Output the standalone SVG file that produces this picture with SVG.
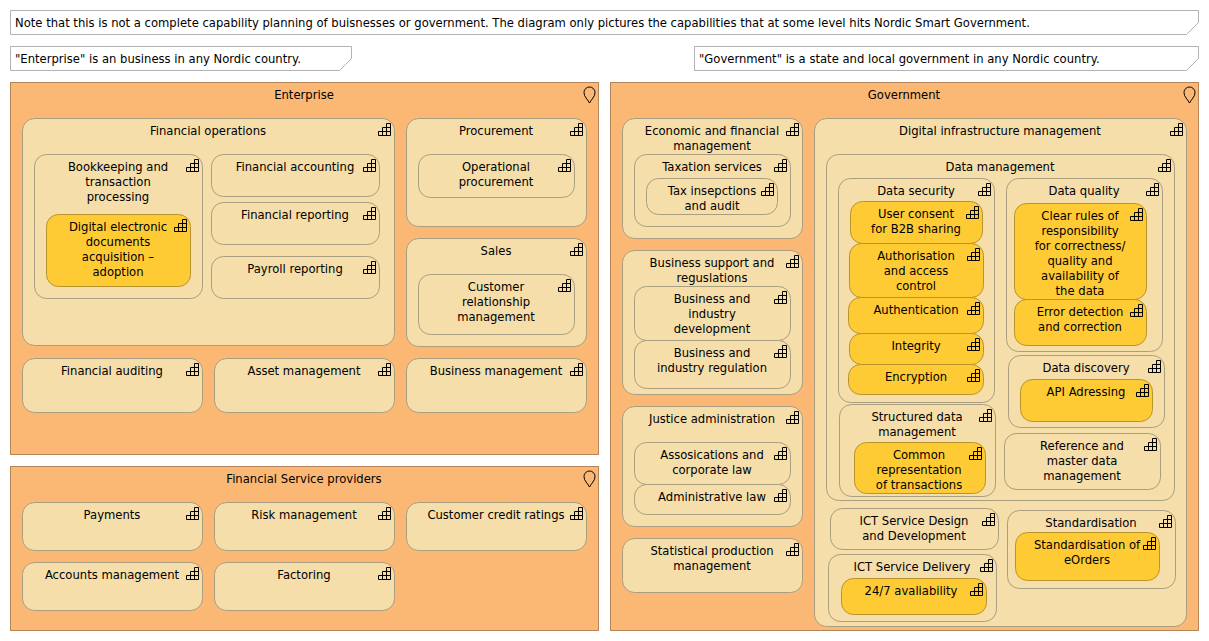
<svg xmlns="http://www.w3.org/2000/svg" width="1209" height="641" viewBox="0 0 1209 641">
<style>
text{font-family:"DejaVu Sans",sans-serif;font-size:11.6px;fill:#000;text-anchor:middle}
.l{text-anchor:start}
.n{fill:#fff;stroke:#b3b3b3;stroke-width:1}
.g{fill:#fbb875;stroke:#b5845a;stroke-width:1}
.c{fill:#f5deaa;stroke:#aa9e80;stroke-width:1}
.y{fill:#ffcb35;stroke:#b8942f;stroke-width:1}
.i{fill:none;stroke:#000;stroke-width:1}
</style>
<defs>
<g id="cap" class="i"><path d="M.5 12.500h12M.5 8.500h12M4.500 4.500h8M8.500 .5h4M.5 8.500v4M4.500 4.500v8M8.500 .5v12M12.500 .5v12"/></g>
<path id="pin" class="i" d="M0 11C-2 7-5.500 5-5.500 0.500a5.500 5.500 0 0 1 11 0C5.500 5 2 7 0 11Z"/>
</defs>
<g id="note-1"><path class="n" d="M10.500 10.500H1198.500V22.500L1186.500 34.500H10.500Z"/><text class="l" x="15" y="27">Note that this is not a complete capability planning of buisnesses or government. The diagram only pictures the capabilities that at some level hits Nordic Smart Government.</text></g>
<g id="note-2"><path class="n" d="M10.500 46.500H351.500V58.500L339.500 70.500H10.500Z"/><text class="l" x="15" y="63">"Enterprise" is an business in any Nordic country.</text></g>
<g id="note-3"><path class="n" d="M694.500 46.500H1198.500V58.500L1186.500 70.500H694.500Z"/><text class="l" x="699" y="63">"Government" is a state and local government in any Nordic country.</text></g>

<g id="enterprise"><rect class="g" x="10.500" y="82.500" width="588" height="372"/><text x="304" y="99">Enterprise</text><use href="#pin" x="589.500" y="92"/></g>
<g id="financial-service-providers"><rect class="g" x="10.500" y="466.500" width="588" height="164"/><text x="304" y="483">Financial Service providers</text><use href="#pin" x="589.500" y="476"/></g>
<g id="government"><rect class="g" x="610.500" y="82.500" width="588" height="548"/><text x="904" y="99">Government</text><use href="#pin" x="1189.500" y="92"/></g>

<g id="financial-operations"><rect class="c" x="22.500" y="118.500" width="372" height="227" rx="12"/><text x="208" y="135">Financial operations</text><use href="#cap" x="378" y="123"/></g>
<g id="bookkeeping"><rect class="c" x="34.500" y="154.500" width="168" height="144" rx="12"/><text x="118" y="171">Bookkeeping and</text><text x="118" y="186">transaction</text><text x="118" y="201">processing</text><use href="#cap" x="186" y="159"/></g>
<g id="digital-electronic"><rect class="y" x="46.500" y="214.500" width="144" height="72" rx="12"/><text x="118" y="231">Digital electronic</text><text x="118" y="246">documents</text><text x="118" y="261">acquisition –</text><text x="118" y="276">adoption</text><use href="#cap" x="174" y="219"/></g>
<g id="financial-accounting"><rect class="c" x="211.500" y="154.500" width="168" height="42" rx="12"/><text x="295" y="171">Financial accounting</text><use href="#cap" x="363" y="159"/></g>
<g id="financial-reporting"><rect class="c" x="211.500" y="202.500" width="168" height="42" rx="12"/><text x="295" y="219">Financial reporting</text><use href="#cap" x="363" y="207"/></g>
<g id="payroll-reporting"><rect class="c" x="211.500" y="256.500" width="168" height="42" rx="12"/><text x="295" y="273">Payroll reporting</text><use href="#cap" x="363" y="261"/></g>
<g id="procurement"><rect class="c" x="406.500" y="118.500" width="180" height="108" rx="12"/><text x="496" y="135">Procurement</text><use href="#cap" x="570" y="123"/></g>
<g id="operational-procurement"><rect class="c" x="418.500" y="154.500" width="156" height="43" rx="12"/><text x="496" y="171">Operational</text><text x="496" y="186">procurement</text><use href="#cap" x="558" y="159"/></g>
<g id="sales"><rect class="c" x="406.500" y="238.500" width="180" height="108" rx="12"/><text x="496" y="255">Sales</text><use href="#cap" x="570" y="243"/></g>
<g id="crm"><rect class="c" x="418.500" y="274.500" width="156" height="60" rx="12"/><text x="496" y="291">Customer</text><text x="496" y="306">relationship</text><text x="496" y="321">management</text><use href="#cap" x="558" y="279"/></g>
<g id="financial-auditing"><rect class="c" x="22.500" y="358.500" width="180" height="54" rx="12"/><text x="112" y="375">Financial auditing</text><use href="#cap" x="186" y="363"/></g>
<g id="asset-management"><rect class="c" x="214.500" y="358.500" width="180" height="54" rx="12"/><text x="304" y="375">Asset management</text><use href="#cap" x="378" y="363"/></g>
<g id="business-management"><rect class="c" x="406.500" y="358.500" width="180" height="54" rx="12"/><text x="496" y="375">Business management</text><use href="#cap" x="570" y="363"/></g>
<g id="payments"><rect class="c" x="22.500" y="502.500" width="180" height="48" rx="12"/><text x="112" y="519">Payments</text><use href="#cap" x="186" y="507"/></g>
<g id="risk-management"><rect class="c" x="214.500" y="502.500" width="180" height="48" rx="12"/><text x="304" y="519">Risk management</text><use href="#cap" x="378" y="507"/></g>
<g id="customer-credit-ratings"><rect class="c" x="406.500" y="502.500" width="180" height="48" rx="12"/><text x="496" y="519">Customer credit ratings</text><use href="#cap" x="570" y="507"/></g>
<g id="accounts-management"><rect class="c" x="22.500" y="562.500" width="180" height="48" rx="12"/><text x="112" y="579">Accounts management</text><use href="#cap" x="186" y="567"/></g>
<g id="factoring"><rect class="c" x="214.500" y="562.500" width="180" height="48" rx="12"/><text x="304" y="579">Factoring</text><use href="#cap" x="378" y="567"/></g>

<g id="economic-financial"><rect class="c" x="622.500" y="118.500" width="180" height="120" rx="12"/><text x="712" y="135">Economic and financial</text><text x="712" y="150">management</text><use href="#cap" x="786" y="123"/></g>
<g id="taxation-services"><rect class="c" x="634.500" y="154.500" width="156" height="72" rx="12"/><text x="712" y="171">Taxation services</text><use href="#cap" x="774" y="159"/></g>
<g id="tax-inspections"><rect class="c" x="646.500" y="178.500" width="131" height="36" rx="12"/><text x="712" y="195">Tax insepctions</text><text x="712" y="210">and audit</text><use href="#cap" x="761" y="183"/></g>
<g id="business-support"><rect class="c" x="622.500" y="250.500" width="180" height="144" rx="12"/><text x="712" y="267">Business support and</text><text x="712" y="282">reguslations</text><use href="#cap" x="786" y="255"/></g>
<g id="business-industry-development"><rect class="c" x="634.500" y="286.500" width="156" height="54" rx="12"/><text x="712" y="303">Business and</text><text x="712" y="318">industry</text><text x="712" y="333">development</text><use href="#cap" x="774" y="291"/></g>
<g id="business-industry-regulation"><rect class="c" x="634.500" y="340.500" width="156" height="48" rx="12"/><text x="712" y="357">Business and</text><text x="712" y="372">industry regulation</text><use href="#cap" x="774" y="345"/></g>
<g id="justice-administration"><rect class="c" x="622.500" y="406.500" width="180" height="120" rx="12"/><text x="712" y="423">Justice administration</text><use href="#cap" x="786" y="411"/></g>
<g id="associations"><rect class="c" x="634.500" y="442.500" width="156" height="42" rx="12"/><text x="712" y="459">Assosications and</text><text x="712" y="474">corporate law</text><use href="#cap" x="774" y="447"/></g>
<g id="administrative-law"><rect class="c" x="634.500" y="484.500" width="156" height="30" rx="12"/><text x="712" y="501">Administrative law</text><use href="#cap" x="774" y="489"/></g>
<g id="statistical-production"><rect class="c" x="622.500" y="538.500" width="180" height="54" rx="12"/><text x="712" y="555">Statistical production</text><text x="712" y="570">management</text><use href="#cap" x="786" y="543"/></g>

<g id="digital-infrastructure"><rect class="c" x="814.500" y="118.500" width="372" height="508" rx="12"/><text x="1000" y="135">Digital infrastructure management</text><use href="#cap" x="1170" y="123"/></g>
<g id="data-management"><rect class="c" x="826.500" y="154.500" width="348" height="346" rx="12"/><text x="1000" y="171">Data management</text><use href="#cap" x="1158" y="159"/></g>
<g id="data-security"><rect class="c" x="838.500" y="178.500" width="156" height="224" rx="12"/><text x="916" y="195">Data security</text><use href="#cap" x="978" y="183"/></g>
<g id="user-consent"><rect class="y" x="850.500" y="201.500" width="132" height="42" rx="12"/><text x="916" y="218">User consent</text><text x="916" y="233">for B2B sharing</text><use href="#cap" x="966" y="206"/></g>
<g id="authorisation"><rect class="y" x="849.500" y="243.500" width="134" height="54" rx="12"/><text x="916" y="260">Authorisation</text><text x="916" y="275">and access</text><text x="916" y="290">control</text><use href="#cap" x="967" y="248"/></g>
<g id="authentication"><rect class="y" x="848.500" y="297.500" width="135" height="36" rx="12"/><text x="916" y="314">Authentication</text><use href="#cap" x="967" y="302"/></g>
<g id="integrity"><rect class="y" x="849.500" y="333.500" width="134" height="31" rx="12"/><text x="916" y="350">Integrity</text><use href="#cap" x="967" y="338"/></g>
<g id="encryption"><rect class="y" x="848.500" y="364.500" width="135" height="30" rx="12"/><text x="916" y="381">Encryption</text><use href="#cap" x="967" y="369"/></g>
<g id="data-quality"><rect class="c" x="1006.500" y="178.500" width="156" height="173" rx="12"/><text x="1084" y="195">Data quality</text><use href="#cap" x="1146" y="183"/></g>
<g id="clear-rules"><rect class="y" x="1014.500" y="203.500" width="132" height="96" rx="12"/><text x="1080" y="220">Clear rules of</text><text x="1080" y="235">responsibility</text><text x="1080" y="250">for correctness/</text><text x="1080" y="265">quality and</text><text x="1080" y="280">availability of</text><text x="1080" y="295">the data</text><use href="#cap" x="1130" y="208"/></g>
<g id="error-detection"><rect class="y" x="1014.500" y="299.500" width="132" height="46" rx="12"/><text x="1080" y="316">Error detection</text><text x="1080" y="331">and correction</text><use href="#cap" x="1130" y="304"/></g>
<g id="data-discovery"><rect class="c" x="1008.500" y="355.500" width="156" height="72" rx="12"/><text x="1086" y="372">Data discovery</text><use href="#cap" x="1148" y="360"/></g>
<g id="api-adressing"><rect class="y" x="1020.500" y="379.500" width="132" height="42" rx="12"/><text x="1086" y="396">API Adressing</text><use href="#cap" x="1136" y="384"/></g>
<g id="structured-data"><rect class="c" x="839.500" y="404.500" width="156" height="92" rx="12"/><text x="917" y="421">Structured data</text><text x="917" y="436">management</text><use href="#cap" x="979" y="409"/></g>
<g id="common-representation"><rect class="y" x="854.500" y="442.500" width="131" height="51" rx="12"/><text x="919" y="459">Common</text><text x="919" y="474">representation</text><text x="919" y="489">of transactions</text><use href="#cap" x="969" y="447"/></g>
<g id="reference-master"><rect class="c" x="1004.500" y="433.500" width="156" height="56" rx="12"/><text x="1082" y="450">Reference and</text><text x="1082" y="465">master data</text><text x="1082" y="480">management</text><use href="#cap" x="1144" y="438"/></g>
<g id="ict-design"><rect class="c" x="830.500" y="508.500" width="168" height="41" rx="12"/><text x="914" y="525">ICT Service Design</text><text x="914" y="540">and Development</text><use href="#cap" x="982" y="513"/></g>
<g id="ict-delivery"><rect class="c" x="828.500" y="554.500" width="168" height="67" rx="12"/><text x="912" y="571">ICT Service Delivery</text><use href="#cap" x="980" y="559"/></g>
<g id="availability"><rect class="y" x="841.500" y="578.500" width="145" height="36" rx="12"/><text x="911" y="595">24/7 avaliability</text><use href="#cap" x="970" y="583"/></g>
<g id="standardisation"><rect class="c" x="1007.500" y="510.500" width="168" height="78" rx="12"/><text x="1091" y="527">Standardisation</text><use href="#cap" x="1159" y="515"/></g>
<g id="standardisation-eorders"><rect class="y" x="1015.500" y="532.500" width="144" height="48" rx="12"/><text x="1087" y="549">Standardisation of</text><text x="1087" y="564">eOrders</text><use href="#cap" x="1143" y="537"/></g>
<g id="connectors"/>
</svg>
